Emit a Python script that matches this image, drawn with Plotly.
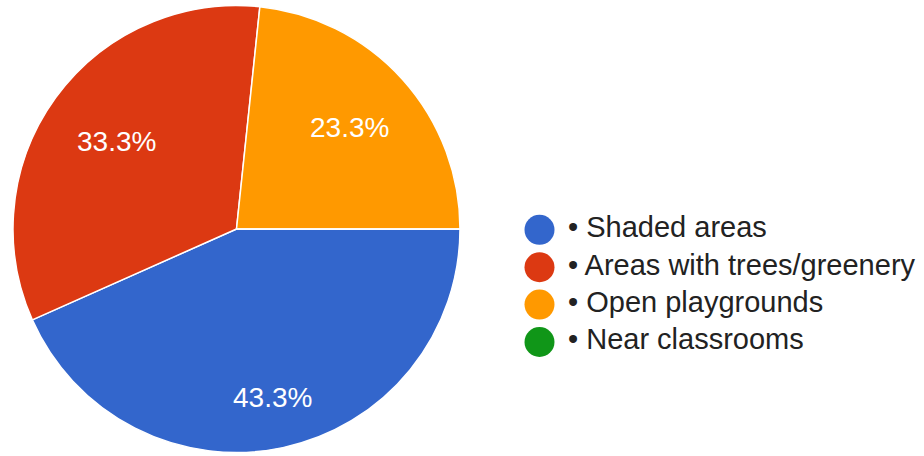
import math
import plotly.graph_objects as go

# Survey responses: preferred spots during break time
categories = ["Shaded areas", "Areas with trees/greenery", "Open playgrounds", "Near classrooms"]
responses = [13, 10, 7, 0]
colors = ["#3366cc", "#dc3912", "#ff9900", "#109618"]

W, H = 924, 456
FONT = "Liberation Sans, Arial, sans-serif"

# Pie geometry in pixels
PIE_CX, PIE_CY, PIE_R = 236.5, 229.0, 223.5
START_DEG = 90  # first slice starts at 3 o'clock
# radial placement of each percentage label, as a fraction of the radius
LABEL_RADIUS = [0.77, 0.665, 0.68, 0.7]

fig = go.Figure()

fig.add_trace(go.Pie(
    labels=categories,
    values=responses,
    sort=False,
    direction="clockwise",
    rotation=START_DEG,
    marker=dict(colors=colors, line=dict(color="white", width=1.5)),
    textinfo="none",
    hoverinfo="label+percent",
    showlegend=False,
    domain=dict(x=[(PIE_CX - PIE_R) / W, (PIE_CX + PIE_R) / W],
                y=[1 - (PIE_CY + PIE_R) / H, 1 - (PIE_CY - PIE_R) / H]),
))

# Percentage labels at the middle angle of each slice
total = sum(responses)
cum = 0.0
for i, v in enumerate(responses):
    if v > 0:
        mid = math.radians(START_DEG + 360 * (cum + v / 2) / total)
        rr = PIE_R * LABEL_RADIUS[i]
        px = PIE_CX + rr * math.sin(mid)
        py = PIE_CY - rr * math.cos(mid)
        fig.add_annotation(
            x=px / W, y=1 - py / H, xref="paper", yref="paper",
            text=f"{v / total:.1%}", showarrow=False,
            xanchor="center", yanchor="middle",
            font=dict(family=FONT, size=28, color="white"),
        )
    cum += v

# Legend: one round swatch and label per category
idx = list(range(len(categories)))
fig.add_trace(go.Scatter(
    x=[539.5] * len(categories),
    y=idx,
    mode="markers",
    marker=dict(size=30, color=colors, line=dict(width=0)),
    hoverinfo="skip",
    showlegend=False,
))
fig.add_trace(go.Scatter(
    x=[568] * len(categories),
    y=idx,
    mode="text",
    text=["\u2022 " + c for c in categories],
    textposition="middle right",
    textfont=dict(family=FONT, size=29, color="#222222"),
    hoverinfo="skip",
    showlegend=False,
))

fig.update_layout(
    width=W, height=H,
    margin=dict(l=0, r=0, t=0, b=0),
    paper_bgcolor="white",
    plot_bgcolor="rgba(0,0,0,0)",
    xaxis=dict(range=[0, W], visible=False, fixedrange=True),
    yaxis=dict(range=[6.05, -6.15], visible=False, fixedrange=True),
    font=dict(family=FONT),
)

fig.write_html("out.html")
